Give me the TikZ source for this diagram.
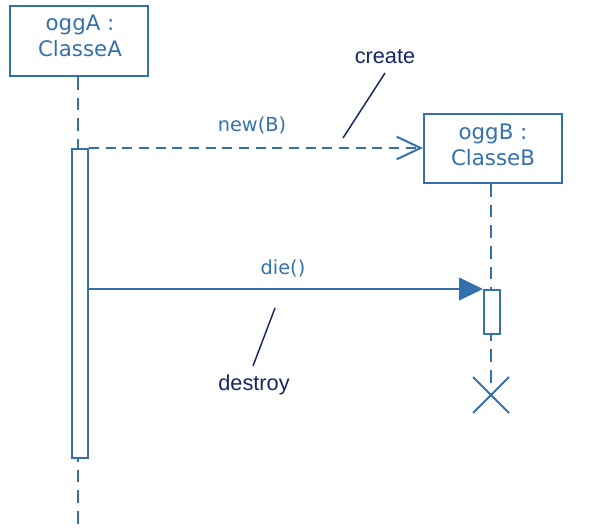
\documentclass[tikz,border=0pt]{standalone}
\usepackage{fontspec}
\setmainfont{DejaVu Sans}
\newfontfamily\notefont{Liberation Sans}
\usetikzlibrary{arrows.meta}
\definecolor{umlblue}{RGB}{52,112,174}
\definecolor{notenavy}{RGB}{20,38,104}
\begin{document}
\begin{tikzpicture}[x=0.75pt,y=-0.75pt,
  objbox/.style={draw=umlblue,line width=1.5pt,minimum width=138*0.75pt,minimum height=70*0.75pt,inner sep=0pt},
  objtext/.style={align=center,text=umlblue,inner sep=0pt,font=\fontsize{16}{19.5}\selectfont},
  actbox/.style={draw=umlblue,line width=1.5pt,fill=white,minimum width=16*0.75pt,inner sep=0pt},
  lifeline/.style={draw=umlblue,line width=1.5pt,dash pattern=on 9.5pt off 6pt},
  msglabel/.style={text=umlblue,font=\fontsize{14.5}{18}\selectfont,inner sep=0pt},
  note/.style={text=notenavy,font=\notefont\fontsize{16.3}{20}\selectfont,inner sep=0pt},
  noteline/.style={draw=notenavy,line width=1.1pt}]
\useasboundingbox (0,0) rectangle (591,528);
% objects
\node[objbox] (A) at (79,41) {};
\node[objtext] (Atext) at (80,36) {oggA :\\ClasseA};
\node[objbox,minimum height=69*0.75pt] (B) at (493,148.5) {};
\node[objtext] (Btext) at (493,145) {oggB :\\ClasseB};
% lifeline coordinates
\coordinate (Aend) at (78,528);
\coordinate (Bend) at (491,386);
\draw[lifeline] (A.south -| Aend) -- (Aend);
\draw[lifeline] (B.south -| Bend) -- (Bend);
% activations
\node[actbox,minimum height=309*0.75pt,anchor=north] (actA) at (80,148) {};
\node[actbox,minimum height=44*0.75pt,anchor=north] (actB) at (492,289) {};
% new(B)
\draw[umlblue,line width=1.5pt,dash pattern=on 7.5pt off 5pt,
  -{Straight Barb[length=18pt,width=17pt,line width=1.5pt]}] (actA.north east) -- (B.west |- actA.north east);
\node[msglabel] (newB) at (252,125) {new(B)};
% die()
\draw[umlblue,line width=1.5pt,-{Triangle[length=18pt,width=17pt]}] (actA.east |- actB.north) -- (actB.north west);
\node[msglabel] (die) at (283,268) {die()};
% destruction X
\coordinate (X) at (491,395);
\draw[umlblue,line width=1.5pt] ([shift={(-18,-18)}]X) -- ([shift={(18,18)}]X)
  ([shift={(-18,18)}]X) -- ([shift={(18,-18)}]X);
% notes
\node[note] (create) at (385,57) {create};
\coordinate (c1) at (385,73);
\coordinate (c2) at (343,138);
\draw[noteline] (c1) -- (c2);
\node[note] (destroy) at (254,385) {destroy};
\coordinate (d1) at (275,308);
\coordinate (d2) at (253,366);
\draw[noteline] (d1) -- (d2);
\end{tikzpicture}
\end{document}
